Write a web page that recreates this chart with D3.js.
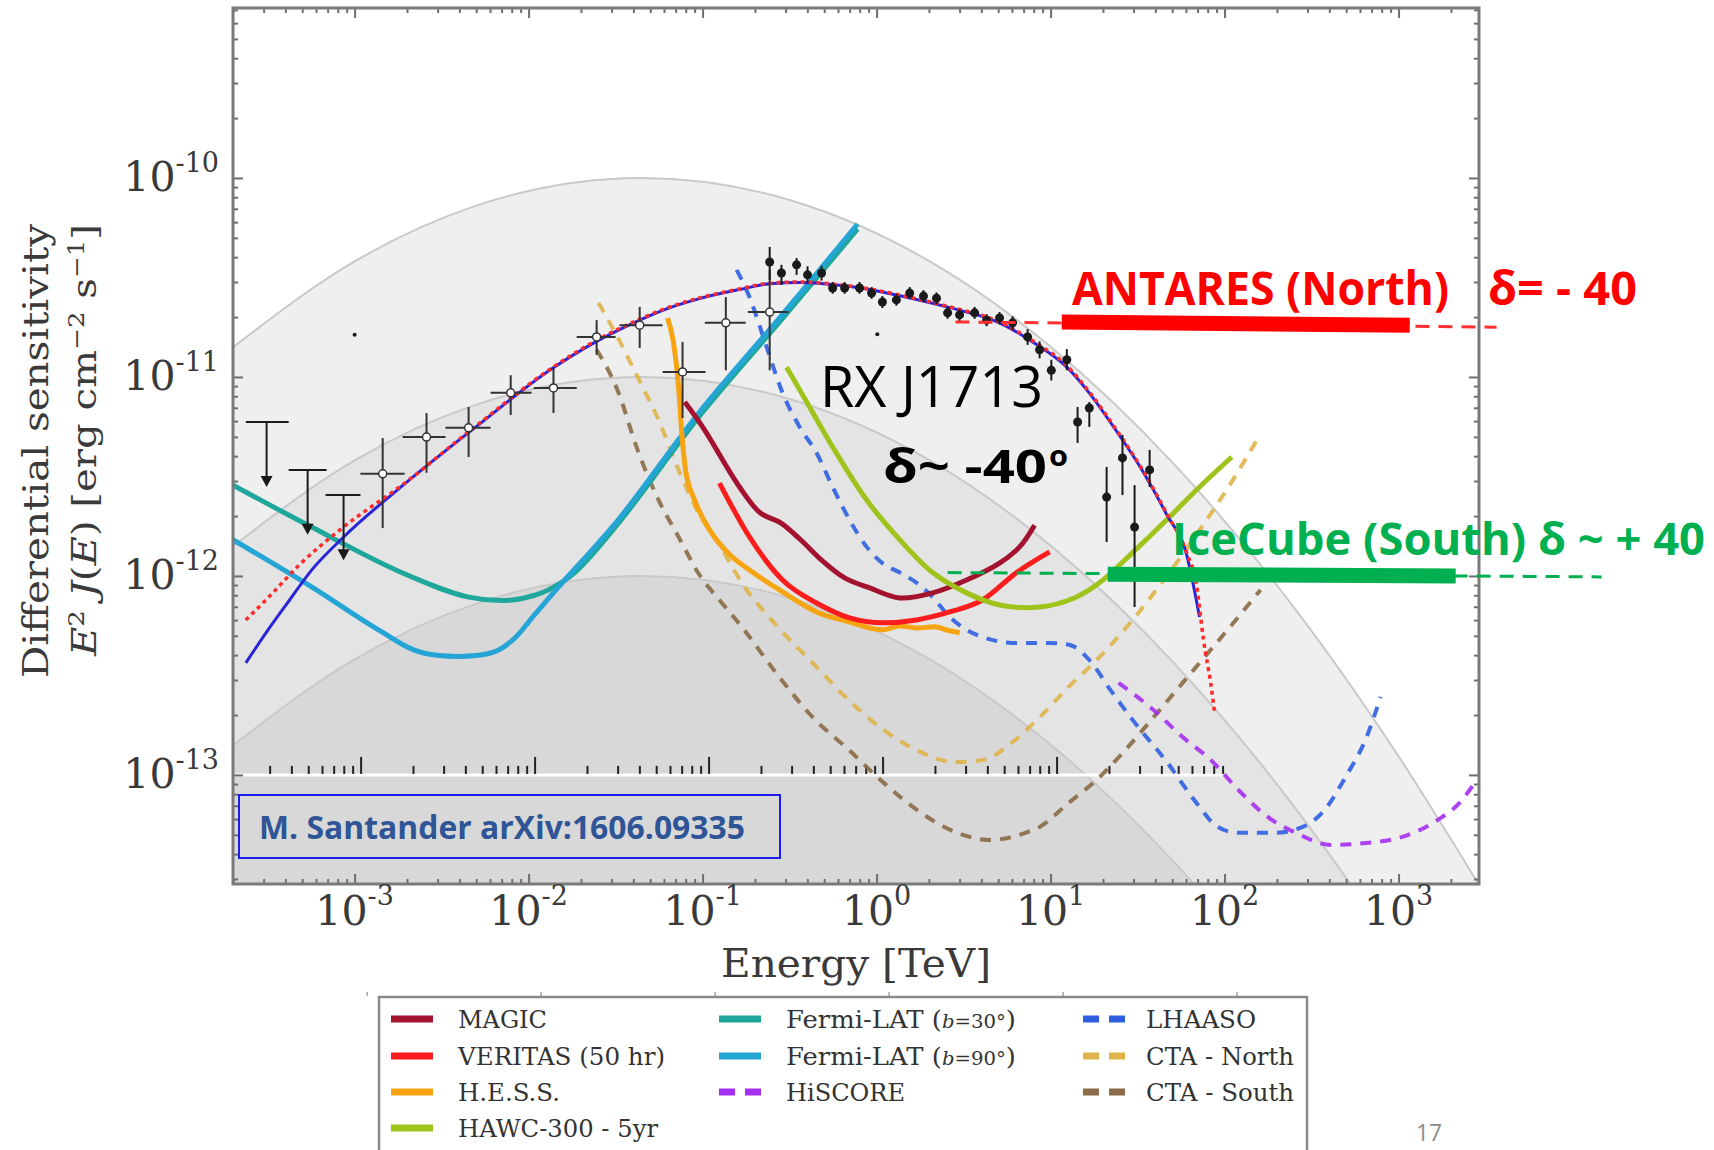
<!DOCTYPE html>
<html>
<head>
<meta charset="utf-8">
<script src="https://d3js.org/d3.v7.min.js"></script>
<style>
  body { margin: 0; background: #fff; }
  svg { display: block; }
</style>
</head>
<body>
<div id="chart"></div>
<script>
// energy in TeV, flux E^2 J(E) in erg cm^-2 s^-1

// reference spectra (grey bands): 100%, 10%, 1%
var bandE = [2.0e-4, 1.0e-3, 5.0e-3, 4.47e-2, 0.316, 2.0, 10, 50, 251, 1.0e3, 2.9e3];
var band100F = [1.41e-11, 3.81e-11, 7.26e-11, 1.00e-10, 7.75e-11, 3.83e-11, 1.42e-11, 3.73e-12, 6.93e-13, 1.24e-13, 2.80e-14];
var band10F = [1.41e-12, 3.81e-12, 7.26e-12, 1.00e-11, 7.75e-12, 3.83e-12, 1.42e-12, 3.73e-13, 6.93e-14, 1.24e-14, 2.80e-15];
var band1F = [1.41e-13, 3.81e-13, 7.26e-13, 1.00e-12, 7.75e-13, 3.83e-13, 1.42e-13, 3.73e-14, 6.93e-15, 1.24e-15, 2.80e-16];

// instrument sensitivities
var ctaSouthE = [2.46e-2, 3.24e-2, 4.23e-2, 5.58e-2, 7.28e-2, 9.61e-2, 0.125, 0.168, 0.270, 0.429, 0.690, 1.10, 1.77, 2.81, 4.52, 7.18, 8.65, 12.7, 18.4, 27.0, 39.1, 57.4, 83.2, 120, 161];
var ctaSouthF = [1.37e-11, 8.61e-12, 4.30e-12, 2.41e-12, 1.57e-12, 1.01e-12, 7.57e-13, 5.55e-13, 3.18e-13, 1.95e-13, 1.34e-13, 9.12e-14, 6.52e-14, 5.18e-14, 4.71e-14, 5.12e-14, 5.48e-14, 7.23e-14, 9.44e-14, 1.34e-13, 1.95e-13, 2.90e-13, 4.25e-13, 6.22e-13, 8.51e-13];

var ctaNorthE = [2.52e-2, 3.24e-2, 4.23e-2, 5.58e-2, 7.28e-2, 9.48e-2, 0.125, 0.168, 0.270, 0.429, 0.690, 1.10, 1.77, 2.81, 4.12, 5.97, 8.65, 12.7, 18.4, 29.6, 47.0, 71.8, 107, 157];
var ctaNorthF = [2.36e-11, 1.59e-11, 1.00e-11, 6.08e-12, 3.41e-12, 2.07e-12, 1.43e-12, 9.23e-13, 5.55e-13, 3.66e-13, 2.38e-13, 1.68e-13, 1.31e-13, 1.16e-13, 1.19e-13, 1.45e-13, 1.95e-13, 2.77e-13, 3.78e-13, 6.01e-13, 1.01e-12, 1.70e-12, 2.86e-12, 4.99e-12];

var lhaasoE = [0.157, 0.186, 0.233, 0.288, 0.361, 0.452, 0.559, 0.700, 0.877, 1.08, 1.36, 1.70, 2.10, 2.63, 3.29, 4.06, 6.38, 9.87, 12.9, 16.7, 22.1, 29.6, 47.0, 69.0, 91.2, 120, 194, 281, 376, 496, 655, 789];
var lhaasoF = [3.45e-11, 2.52e-11, 1.42e-11, 8.32e-12, 5.61e-12, 4.15e-12, 2.80e-12, 1.91e-12, 1.40e-12, 1.16e-12, 1.04e-12, 9.23e-13, 7.83e-13, 6.22e-13, 5.36e-13, 4.93e-13, 4.60e-13, 4.60e-13, 4.50e-13, 3.78e-13, 2.67e-13, 1.89e-13, 1.15e-13, 7.23e-14, 5.48e-14, 5.12e-14, 5.12e-14, 5.48e-14, 6.67e-14, 9.77e-14, 1.55e-13, 2.47e-13];

var hiscoreE = [24.6, 39.1, 57.4, 83.2, 120, 177, 256, 412, 655, 1.05e3, 1.68e3, 2.24e3, 2.81e3];
var hiscoreF = [2.90e-13, 2.12e-13, 1.55e-13, 1.19e-13, 8.41e-14, 6.15e-14, 5.12e-14, 4.45e-14, 4.55e-14, 4.88e-14, 5.94e-14, 7.23e-14, 9.44e-14];

var fermi30E = [2.0e-4, 5.66e-4, 1.86e-3, 4.52e-3, 8.09e-3, 1.10e-2, 1.30e-2, 1.84e-2, 3.33e-2, 9.61e-2, 0.277, 0.778];
var fermi30F = [2.86e-12, 1.76e-12, 1.04e-12, 7.83e-13, 7.57e-13, 8.04e-13, 8.51e-13, 1.04e-12, 1.87e-12, 6.37e-12, 1.89e-11, 5.55e-11];

var fermi90E = [2.0e-4, 5.66e-4, 1.37e-3, 2.49e-3, 6.05e-3, 8.09e-3, 1.08e-2, 1.47e-2, 3.33e-2, 9.61e-2, 0.277, 0.778];
var fermi90F = [1.52e-12, 8.81e-13, 5.36e-13, 4.10e-13, 4.10e-13, 4.76e-13, 6.37e-13, 8.71e-13, 1.95e-12, 6.67e-12, 1.98e-11, 5.87e-11];

var hessE = [6.29e-2, 6.90e-2, 7.28e-2, 7.57e-2, 7.98e-2, 8.99e-2, 0.110, 0.143, 0.186, 0.288, 0.452, 0.700, 1.08, 1.36, 1.70, 2.15, 2.63, 3.00];
var hessF = [1.98e-11, 1.37e-11, 8.91e-12, 5.42e-12, 3.41e-12, 2.41e-12, 1.70e-12, 1.28e-12, 1.07e-12, 8.32e-13, 6.59e-13, 5.87e-13, 5.36e-13, 5.61e-13, 5.48e-13, 5.55e-13, 5.30e-13, 5.18e-13];

var veritasE = [0.125, 0.186, 0.288, 0.452, 0.700, 1.08, 1.70, 2.63, 4.06, 6.38, 9.87];
var veritasF = [2.93e-12, 1.57e-12, 9.54e-13, 7.31e-13, 6.15e-13, 5.81e-13, 6.01e-13, 6.59e-13, 7.57e-13, 1.04e-12, 1.32e-12];

var magicE = [7.89e-2, 0.100, 0.163, 0.215, 0.281, 0.366, 0.483, 0.655, 0.912, 1.36, 2.10, 3.29, 5.09, 6.64, 8.09];
var magicF = [7.48e-12, 5.61e-12, 2.80e-12, 2.07e-12, 1.85e-12, 1.52e-12, 1.20e-12, 9.77e-13, 8.71e-13, 7.75e-13, 8.22e-13, 9.54e-13, 1.16e-12, 1.40e-12, 1.80e-12];

var hawcE = [0.304, 0.412, 0.559, 0.877, 1.36, 2.10, 3.29, 5.09, 8.65, 13.7, 19.1, 29.6, 46.4, 71.8, 110];
var hawcF = [1.12e-11, 7.06e-12, 4.45e-12, 2.41e-12, 1.52e-12, 1.04e-12, 8.22e-13, 7.15e-13, 6.98e-13, 7.75e-13, 9.23e-13, 1.31e-12, 1.91e-12, 2.80e-12, 3.96e-12];

// RX J1713 models
var modelRedE = [2.37e-4, 3.21e-4, 4.83e-4, 8.20e-4, 1.94e-3, 4.90e-3, 1.36e-2, 2.46e-2, 4.23e-2, 6.21e-2, 9.48e-2, 0.163, 0.243, 0.366, 0.629, 0.912, 1.36, 2.63, 5.09, 7.88, 12.4, 16.7, 23.9, 33.8, 46.4, 60.5, 69.0, 75.7, 83.2, 87.7];
var modelRedF = [6.01e-13, 7.83e-13, 1.14e-12, 1.70e-12, 2.93e-12, 5.61e-12, 1.11e-11, 1.53e-11, 1.93e-11, 2.22e-11, 2.49e-11, 2.77e-11, 2.96e-11, 3.00e-11, 2.90e-11, 2.77e-11, 2.58e-11, 2.25e-11, 1.89e-11, 1.52e-11, 1.14e-11, 8.41e-12, 5.42e-12, 3.41e-12, 2.07e-12, 1.31e-12, 9.02e-13, 4.76e-13, 2.90e-13, 2.05e-13];
var modelBlueE = [2.37e-4, 3.24e-4, 4.23e-4, 5.66e-4, 8.65e-4, 1.94e-3, 4.90e-3, 1.36e-2, 2.46e-2, 4.23e-2, 6.21e-2, 9.48e-2, 0.163, 0.243, 0.366, 0.629, 0.912, 1.36, 2.63, 5.09, 7.88, 12.4, 16.7, 23.9, 33.8, 46.4, 60.5, 71.8];
var modelBlueF = [3.66e-13, 5.48e-13, 7.57e-13, 1.07e-12, 1.57e-12, 2.90e-12, 5.55e-12, 1.10e-11, 1.51e-11, 1.91e-11, 2.20e-11, 2.47e-11, 2.75e-11, 2.94e-11, 2.98e-11, 2.88e-11, 2.75e-11, 2.56e-11, 2.23e-11, 1.87e-11, 1.50e-11, 1.12e-11, 8.30e-12, 5.35e-12, 3.37e-12, 2.04e-12, 1.28e-12, 6.22e-13];

// RX J1713 data: Fermi points (open), upper limits, H.E.S.S. points (filled)
var fermiPtE = [1.45e-3, 2.59e-3, 4.52e-3, 7.89e-3, 1.39e-2, 2.46e-2, 4.35e-2, 7.67e-2, 0.136, 0.243];
var fermiPtElo = [1.08e-3, 1.89e-3, 3.33e-3, 6.05e-3, 1.07e-2, 1.89e-2, 3.33e-2, 5.89e-2, 0.103, 0.182];
var fermiPtEhi = [1.94e-3, 3.33e-3, 6.05e-3, 1.04e-2, 1.89e-2, 3.16e-2, 5.89e-2, 0.104, 0.177, 0.312];
var fermiPtF = [3.26e-12, 4.99e-12, 5.55e-12, 8.32e-12, 8.81e-12, 1.59e-11, 1.82e-11, 1.06e-11, 1.87e-11, 2.12e-11];
var fermiPtFlo = [1.74e-12, 3.30e-12, 3.96e-12, 6.44e-12, 6.59e-12, 1.29e-11, 1.40e-11, 6.22e-12, 1.08e-11, 1.08e-11];
var fermiPtFhi = [4.93e-12, 6.59e-12, 7.06e-12, 1.02e-11, 1.11e-11, 1.93e-11, 2.25e-11, 1.50e-11, 2.52e-11, 3.45e-11];

var ulE = [3.12e-4, 5.37e-4, 8.64e-4];
var ulElo = [2.37e-4, 4.18e-4, 6.81e-4];
var ulEhi = [4.18e-4, 6.90e-4, 1.08e-3];
var ulF = [5.94e-12, 3.41e-12, 2.55e-12];
var ulTip = [2.80e-12, 1.61e-12, 1.20e-12];

var hessPtE = [0.243, 0.284, 0.347, 0.401, 0.483, 0.559, 0.655, 0.798, 0.936, 1.08, 1.30, 1.55, 1.86, 2.21, 2.56, 3.00, 3.66, 4.29, 5.09, 6.05, 7.38, 8.65, 10.1, 12.4, 14.3, 16.7, 21.0, 25.9, 30.4, 37.1];
var hessPtF = [3.78e-11, 3.33e-11, 3.66e-11, 3.26e-11, 3.33e-11, 2.80e-11, 2.80e-11, 2.80e-11, 2.64e-11, 2.38e-11, 2.44e-11, 2.64e-11, 2.55e-11, 2.49e-11, 2.10e-11, 2.05e-11, 2.10e-11, 1.93e-11, 1.98e-11, 1.87e-11, 1.59e-11, 1.37e-11, 1.08e-11, 1.22e-11, 5.94e-12, 6.98e-12, 2.49e-12, 3.92e-12, 1.76e-12, 3.41e-12];
var hessPtFlo = [3.07e-11, 2.90e-11, 3.26e-11, 2.95e-11, 3.05e-11, 2.62e-11, 2.62e-11, 2.62e-11, 2.47e-11, 2.22e-11, 2.28e-11, 2.47e-11, 2.38e-11, 2.32e-11, 1.96e-11, 1.91e-11, 1.96e-11, 1.80e-11, 1.84e-11, 1.72e-11, 1.45e-11, 1.24e-11, 9.6e-12, 1.08e-11, 4.66e-12, 5.61e-12, 1.48e-12, 2.55e-12, 6.98e-13, 2.80e-12];
var hessPtFhi = [4.50e-11, 3.66e-11, 3.96e-11, 3.60e-11, 3.62e-11, 3.00e-11, 3.00e-11, 3.00e-11, 2.83e-11, 2.55e-11, 2.61e-11, 2.83e-11, 2.73e-11, 2.66e-11, 2.25e-11, 2.19e-11, 2.25e-11, 2.07e-11, 2.12e-11, 2.02e-11, 1.74e-11, 1.51e-11, 1.22e-11, 1.38e-11, 7.06e-12, 7.48e-12, 3.53e-12, 5.12e-12, 2.86e-12, 4.30e-12];

var strayE = [1.0e-3, 1.01];
var strayF = [1.63e-11, 1.64e-11];

// neutrino telescope sensitivities (slide overlay)
var antaresDashE = [2.84, 3.66e3];
var antaresDashF = [1.89e-11, 1.78e-11];
var antaresBarE = [11.6, 1.16e3];
var antaresBarF = [1.89e-11, 1.82e-11];
var icecubeDashE = [2.56, 1.47e4];
var icecubeDashF = [1.04e-12, 9.89e-13];
var icecubeBarE = [21.3, 2.13e3];
var icecubeBarF = [1.02e-12, 1.00e-12];

// ticks
var xMajor = [1e-3, 1e-2, 1e-1, 1, 10, 100, 1000];
var xTickExp = ["-3", "-2", "-1", "0", "1", "2", "3"];
var yMajor = [1e-13, 1e-12, 1e-11, 1e-10];
var yTickExp = ["-13", "-12", "-11", "-10"];

var svgWidth = 1714;
var svgHeight = 1150;
var plot = {left: 233, right: 1479, top: 8, bottom: 884};

var svg = d3.select("#chart")
  .append("svg")
  .attr("width", svgWidth)
  .attr("height", svgHeight);

var x = d3.scaleLog().domain([2.0e-4, 2.9e3]).range([plot.left, plot.right]);
var y = d3.scaleLog().domain([2.83e-14, 7.15e-10]).range([plot.bottom, plot.top]);

function pts(E, F) { return E.map(function(e, i) { return [e, F[i]]; }); }

var line = d3.line()
  .x(function(d) { return x(d[0]); })
  .y(function(d) { return y(d[1]); })
  .curve(d3.curveMonotoneX);
var smooth = d3.line()
  .x(function(d) { return x(d[0]); })
  .y(function(d) { return y(d[1]); })
  .curve(d3.curveCatmullRom.alpha(0.5));
var straight = d3.line()
  .x(function(d) { return x(d[0]); })
  .y(function(d) { return y(d[1]); });
var area = d3.area()
  .x(function(d) { return x(d[0]); })
  .y0(plot.bottom)
  .y1(function(d) { return y(d[1]); })
  .curve(d3.curveMonotoneX);

svg.append("defs").append("clipPath").attr("id", "clip")
  .append("rect")
  .attr("x", plot.left).attr("y", plot.top)
  .attr("width", plot.right - plot.left).attr("height", plot.bottom - plot.top);

var chart = svg.append("g").attr("clip-path", "url(#clip)");

chart.append("rect")
  .attr("x", plot.left).attr("y", plot.top)
  .attr("width", plot.right - plot.left).attr("height", plot.bottom - plot.top)
  .attr("fill", "#ffffff");

// grey bands
[[band100F, "#efefef"], [band10F, "#e4e4e4"], [band1F, "#d8d8d8"]].forEach(function(b) {
  chart.append("path").datum(pts(bandE, b[0])).attr("d", area).attr("fill", b[1]);
});
[band100F, band10F, band1F].forEach(function(b) {
  chart.append("path").datum(pts(bandE, b)).attr("d", line)
    .attr("fill", "none").attr("stroke", "#c9c9c9").attr("stroke-width", 2);
});

// white axis line of the pasted spectrum, with its ticks
var insetX = x.copy().range([plot.left + 6, plot.right + 6]);
var insetMinor = x.ticks().filter(function(v) { return v >= 2.9e-4 && v <= 95 && Math.abs(Math.log10(v) % 1) > 1e-6; });
chart.append("line")
  .attr("x1", plot.left).attr("x2", insetX(92))
  .attr("y1", y(1e-13)).attr("y2", y(1e-13))
  .attr("stroke", "#ffffff").attr("stroke-width", 3);
var insetAxis = chart.append("g").attr("transform", "translate(0," + (y(1e-13) - 1) + ")").attr("color", "#222");
insetAxis.append("g").call(d3.axisTop(insetX).tickValues(insetMinor).tickSize(8).tickFormat(""));
insetAxis.append("g").call(d3.axisTop(insetX).tickValues([1e-3, 1e-2, 1e-1, 1, 10]).tickSize(17).tickFormat(""));
insetAxis.selectAll(".domain").remove();
insetAxis.selectAll("line").attr("stroke-width", 2);

// sensitivity curves
var curves = [
  {E: ctaSouthE, F: ctaSouthF, color: "#8a6c48", dash: "11,9", w: 4, gen: line},
  {E: ctaNorthE, F: ctaNorthF, color: "#dfb44a", dash: "11,9", w: 4, gen: line},
  {E: lhaasoE, F: lhaasoF, color: "#2d5fe0", dash: "11,9", w: 4, gen: line},
  {E: hiscoreE, F: hiscoreF, color: "#a52ff0", dash: "11,9", w: 4, gen: line},
  {E: fermi30E, F: fermi30F, color: "#1fa79b", dash: null, w: 5, gen: smooth},
  {E: fermi90E, F: fermi90F, color: "#25a5d6", dash: null, w: 5, gen: smooth},
  {E: hessE, F: hessF, color: "#f6a412", dash: null, w: 5, gen: line},
  {E: veritasE, F: veritasF, color: "#fb1d1d", dash: null, w: 5, gen: line},
  {E: magicE, F: magicF, color: "#a3122f", dash: null, w: 5, gen: smooth},
  {E: hawcE, F: hawcF, color: "#9ec41c", dash: null, w: 5, gen: smooth}
];
curves.forEach(function(c) {
  chart.append("path").datum(pts(c.E, c.F)).attr("d", c.gen)
    .attr("fill", "none").attr("stroke", c.color).attr("stroke-width", c.w)
    .attr("stroke-dasharray", c.dash).attr("opacity", c.dash ? 0.9 : 1);
});

// RX J1713 spectrum
var spec = svg.append("g");
spec.append("path").datum(pts(modelBlueE, modelBlueF)).attr("d", line)
  .attr("fill", "none").attr("stroke", "#2a24d8").attr("stroke-width", 3);
spec.append("path").datum(pts(modelRedE, modelRedF)).attr("d", line)
  .attr("fill", "none").attr("stroke", "#ff2b2b").attr("stroke-width", 3.5)
  .attr("stroke-dasharray", "4,4");

var ink = "#1a1a1a";
fermiPtE.forEach(function(e, i) {
  spec.append("line").attr("x1", x(fermiPtElo[i])).attr("x2", x(fermiPtEhi[i]))
    .attr("y1", y(fermiPtF[i])).attr("y2", y(fermiPtF[i]))
    .attr("stroke", "#333").attr("stroke-width", 2);
  spec.append("line").attr("x1", x(e)).attr("x2", x(e))
    .attr("y1", y(fermiPtFlo[i])).attr("y2", y(fermiPtFhi[i]))
    .attr("stroke", "#333").attr("stroke-width", 2);
});
spec.selectAll(".fermiPt").data(pts(fermiPtE, fermiPtF)).enter().append("circle")
  .attr("class", "fermiPt")
  .attr("cx", function(d) { return x(d[0]); })
  .attr("cy", function(d) { return y(d[1]); })
  .attr("r", 4).attr("fill", "#fff").attr("stroke", "#333").attr("stroke-width", 1.5);

ulE.forEach(function(e, i) {
  spec.append("line").attr("x1", x(ulElo[i])).attr("x2", x(ulEhi[i]))
    .attr("y1", y(ulF[i])).attr("y2", y(ulF[i]))
    .attr("stroke", ink).attr("stroke-width", 2);
  spec.append("line").attr("x1", x(e)).attr("x2", x(e))
    .attr("y1", y(ulF[i])).attr("y2", y(ulTip[i]) - 8)
    .attr("stroke", ink).attr("stroke-width", 2);
  var tx = x(e), ty = y(ulTip[i]);
  spec.append("path")
    .attr("d", "M" + (tx - 6) + "," + (ty - 11) + "L" + (tx + 6) + "," + (ty - 11) + "L" + tx + "," + ty + "Z")
    .attr("fill", ink);
});

hessPtE.forEach(function(e, i) {
  spec.append("line").attr("x1", x(e)).attr("x2", x(e))
    .attr("y1", y(hessPtFlo[i])).attr("y2", y(hessPtFhi[i]))
    .attr("stroke", ink).attr("stroke-width", 2);
});
spec.selectAll(".hessPt").data(pts(hessPtE, hessPtF)).enter().append("circle")
  .attr("class", "hessPt")
  .attr("cx", function(d) { return x(d[0]); })
  .attr("cy", function(d) { return y(d[1]); })
  .attr("r", 4.5).attr("fill", ink);
spec.selectAll(".stray").data(pts(strayE, strayF)).enter().append("circle")
  .attr("cx", function(d) { return x(d[0]); })
  .attr("cy", function(d) { return y(d[1]); })
  .attr("r", 2).attr("fill", ink);

// frame + inward ticks
var frame = svg.append("g").attr("color", "#6e6e6e");
var xMinor = x.ticks().filter(function(v) { return xMajor.indexOf(v) < 0; });
var yMinor = y.ticks().filter(function(v) { return yMajor.indexOf(v) < 0; });
frame.append("g").attr("transform", "translate(0," + plot.bottom + ")")
  .call(d3.axisBottom(x).tickValues(xMajor).tickSize(-10).tickFormat(""));
frame.append("g").attr("transform", "translate(0," + plot.bottom + ")")
  .call(d3.axisBottom(x).tickValues(xMinor).tickSize(-5).tickFormat(""));
frame.append("g").attr("transform", "translate(0," + plot.top + ")")
  .call(d3.axisTop(x).tickValues(xMajor).tickSize(-10).tickFormat(""));
frame.append("g").attr("transform", "translate(0," + plot.top + ")")
  .call(d3.axisTop(x).tickValues(xMinor).tickSize(-5).tickFormat(""));
frame.append("g").attr("transform", "translate(" + plot.left + ",0)")
  .call(d3.axisLeft(y).tickValues(yMajor).tickSize(-10).tickFormat(""));
frame.append("g").attr("transform", "translate(" + plot.left + ",0)")
  .call(d3.axisLeft(y).tickValues(yMinor).tickSize(-5).tickFormat(""));
frame.append("g").attr("transform", "translate(" + plot.right + ",0)")
  .call(d3.axisRight(y).tickValues(yMajor).tickSize(-10).tickFormat(""));
frame.append("g").attr("transform", "translate(" + plot.right + ",0)")
  .call(d3.axisRight(y).tickValues(yMinor).tickSize(-5).tickFormat(""));
frame.selectAll(".domain").remove();
frame.selectAll("line").attr("stroke-width", 2);
frame.append("rect")
  .attr("x", plot.left).attr("y", plot.top)
  .attr("width", plot.right - plot.left).attr("height", plot.bottom - plot.top)
  .attr("fill", "none").attr("stroke", "#7a7a7a").attr("stroke-width", 3);

// tick labels
var serif = "DejaVu Serif";
xMajor.forEach(function(v, i) {
  var t = svg.append("text").attr("x", x(v)).attr("y", 925)
    .attr("text-anchor", "middle").attr("font-family", serif)
    .attr("font-size", 41).attr("fill", "#3a3a3a");
  t.append("tspan").text("10");
  t.append("tspan").attr("font-size", 27).attr("dy", -20).text(xTickExp[i]);
});
yMajor.forEach(function(v, i) {
  var t = svg.append("text").attr("x", 219).attr("y", y(v) + 13)
    .attr("text-anchor", "end").attr("font-family", serif)
    .attr("font-size", 41).attr("fill", "#3a3a3a");
  t.append("tspan").text("10");
  t.append("tspan").attr("font-size", 27).attr("dy", -19).text(yTickExp[i]);
});

// axis titles
svg.append("text")
  .attr("transform", "translate(" + ((plot.left + plot.right) / 2) + ",977)")
  .attr("text-anchor", "middle").attr("font-family", serif).attr("font-size", 40)
  .attr("fill", "#3a3a3a").attr("textLength", 270).attr("lengthAdjust", "spacingAndGlyphs")
  .text("Energy [TeV]");
svg.append("text")
  .attr("transform", "translate(48,451) rotate(-90)")
  .attr("text-anchor", "middle").attr("font-family", serif).attr("font-size", 36)
  .attr("fill", "#3a3a3a").attr("textLength", 454).attr("lengthAdjust", "spacingAndGlyphs")
  .text("Differential sensitivity");
var yl = svg.append("text")
  .attr("transform", "translate(96,440) rotate(-90)")
  .attr("text-anchor", "middle").attr("font-family", serif).attr("font-size", 34)
  .attr("fill", "#3a3a3a").attr("textLength", 432).attr("lengthAdjust", "spacingAndGlyphs");
yl.append("tspan").attr("font-style", "italic").text("E");
yl.append("tspan").attr("font-size", 22).attr("baseline-shift", "super").text("2");
yl.append("tspan").text(" ");
yl.append("tspan").attr("font-style", "italic").text("J");
yl.append("tspan").text("(");
yl.append("tspan").attr("font-style", "italic").text("E");
yl.append("tspan").text(") [erg cm");
yl.append("tspan").attr("font-size", 22).attr("baseline-shift", "super").text("\u22122");
yl.append("tspan").text(" s");
yl.append("tspan").attr("font-size", 22).attr("baseline-shift", "super").text("\u22121");
yl.append("tspan").text("]");

// slide annotations
var anno = svg.append("g");
anno.append("path").datum(pts(antaresDashE, antaresDashF)).attr("d", straight)
  .attr("stroke", "#ff3030").attr("stroke-width", 3).attr("stroke-dasharray", "14,9");
anno.append("path").datum(pts(antaresBarE, antaresBarF)).attr("d", straight)
  .attr("stroke", "#ff0000").attr("stroke-width", 15);
anno.append("path").datum(pts(icecubeDashE, icecubeDashF)).attr("d", straight)
  .attr("stroke", "#00b050").attr("stroke-width", 3).attr("stroke-dasharray", "14,9");
anno.append("path").datum(pts(icecubeBarE, icecubeBarF)).attr("d", straight)
  .attr("stroke", "#00b050").attr("stroke-width", 15);

var sans = "Open Sans";
function label(txt, x0, yb, size, weight, color, len) {
  return anno.append("text").attr("x", x0).attr("y", yb)
    .attr("font-family", sans).attr("font-size", size).attr("font-weight", weight)
    .attr("fill", color).attr("textLength", len).attr("lengthAdjust", "spacingAndGlyphs")
    .text(txt);
}
label("ANTARES (North)", 1072, 305, 46, "bold", "#ff0000", 377);
label("\u03b4= - 40", 1488, 305, 46, "bold", "#ff0000", 149);
label("IceCube (South) \u03b4 ~ + 40", 1172, 555, 44, "bold", "#00b050", 533);
label("RX J1713", 820, 407, 56, "normal", "#000", 223);
label("\u03b4~ -40", 883, 483, 46, "bold", "#000", 164);
label("o", 1049, 466, 28, "bold", "#000", 19);

anno.append("rect").attr("x", 239).attr("y", 795).attr("width", 541).attr("height", 63)
  .attr("fill", "none").attr("stroke", "#1c1cf0").attr("stroke-width", 2);
label("M. Santander arXiv:1606.09335", 259, 839, 32, "bold", "#2f5597", 486);

// page number
label("17", 1416, 1141, 24, "normal", "#8c8c8c", 26);

// remnant ticks above the legend
var legAxis = svg.append("g").attr("transform", "translate(0,996)").attr("color", "#777");
legAxis.call(d3.axisTop(x.copy().range([plot.left + 12, plot.right + 12]))
  .tickValues([1e-3, 1e-2, 1e-1, 1, 10, 100]).tickSize(4).tickFormat(""));
legAxis.select(".domain").remove();

// legend
var legendNames = [["MAGIC", "VERITAS (50 hr)", "H.E.S.S.", "HAWC-300 - 5yr"],
                   ["Fermi-LAT30", "Fermi-LAT90", "HiSCORE"],
                   ["LHAASO", "CTA - North", "CTA - South"]];
var legendColors = [["#a3122f", "#fb1d1d", "#f6a412", "#9ec41c"],
                    ["#1fa79b", "#25a5d6", "#a52ff0"],
                    ["#2d5fe0", "#dfb44a", "#8a6c48"]];
var legendWidths = [[89, 207, 102, 200], [230, 230, 119], [110, 148, 148]];
var legendSwatchX = [391, 719, 1083];
var legendTextX = [458, 786, 1146];
var legendRowY = [1019, 1056, 1092, 1128];

var legend = svg.append("g");
legend.append("rect").attr("x", 379).attr("y", 997).attr("width", 928).attr("height", 200)
  .attr("fill", "#fff").attr("stroke", "#8a8a8a").attr("stroke-width", 2.5);
legendNames.forEach(function(col, c) {
  col.forEach(function(name, r) {
    var yy = legendRowY[r];
    legend.append("line")
      .attr("x1", legendSwatchX[c]).attr("x2", legendSwatchX[c] + 42)
      .attr("y1", yy).attr("y2", yy)
      .attr("stroke", legendColors[c][r]).attr("stroke-width", 7)
      .attr("stroke-dasharray", c === 2 || name === "HiSCORE" ? "16,10" : null);
    var t = legend.append("text").attr("x", legendTextX[c]).attr("y", yy + 9)
      .attr("font-family", serif).attr("font-size", 25).attr("fill", "#333")
      .attr("textLength", legendWidths[c][r]).attr("lengthAdjust", "spacingAndGlyphs");
    if (name.indexOf("Fermi-LAT") === 0) {
      t.append("tspan").text("Fermi-LAT (");
      t.append("tspan").attr("font-style", "italic").attr("font-size", 19).text("b");
      t.append("tspan").attr("font-size", 19).text("=" + name.slice(9) + "\u00b0");
      t.append("tspan").text(")");
    } else {
      t.text(name);
    }
  });
});
</script>
</body>
</html>
